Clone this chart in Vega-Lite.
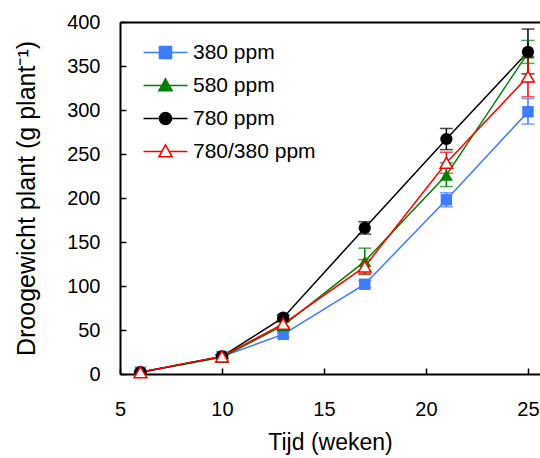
{
  "$schema": "https://vega.github.io/schema/vega-lite/v6.json",
  "width": 420,
  "height": 352,
  "autosize": {"type": "none"},
  "padding": {"left": 120, "top": 22, "right": 0, "bottom": 84},
  "config": {
    "view": {"stroke": null},
    "font": "Liberation Sans",
    "axis": {"grid": false, "labelColor": "#000", "titleColor": "#000", "titleFontWeight": "normal", "domainColor": "#000", "tickColor": "#000", "labelFont": "Liberation Sans", "titleFont": "Liberation Sans"},
    "legend": {"labelFont": "Liberation Sans"}
  },
  "data": {"values": [
    {"series": "380 ppm", "week": 6, "y": 2, "lo": 1, "hi": 3},
    {"series": "380 ppm", "week": 10, "y": 20, "lo": 18, "hi": 22},
    {"series": "380 ppm", "week": 13, "y": 45, "lo": 42, "hi": 48},
    {"series": "380 ppm", "week": 17, "y": 102, "lo": 98, "hi": 106},
    {"series": "380 ppm", "week": 21, "y": 198, "lo": 190, "hi": 206},
    {"series": "380 ppm", "week": 25, "y": 298, "lo": 284, "hi": 313},
    {"series": "580 ppm", "week": 6, "y": 2, "lo": 1, "hi": 3},
    {"series": "580 ppm", "week": 10, "y": 19, "lo": 17, "hi": 21},
    {"series": "580 ppm", "week": 13, "y": 55, "lo": 51, "hi": 59},
    {"series": "580 ppm", "week": 17, "y": 128, "lo": 113, "hi": 143},
    {"series": "580 ppm", "week": 21, "y": 226, "lo": 213, "hi": 240},
    {"series": "580 ppm", "week": 25, "y": 365, "lo": 353, "hi": 379},
    {"series": "780 ppm", "week": 6, "y": 2, "lo": 1, "hi": 3},
    {"series": "780 ppm", "week": 10, "y": 20, "lo": 18, "hi": 22},
    {"series": "780 ppm", "week": 13, "y": 64, "lo": 61, "hi": 67},
    {"series": "780 ppm", "week": 17, "y": 166, "lo": 159, "hi": 173},
    {"series": "780 ppm", "week": 21, "y": 267, "lo": 255, "hi": 279},
    {"series": "780 ppm", "week": 25, "y": 366, "lo": 341, "hi": 392},
    {"series": "780/380 ppm", "week": 6, "y": 2, "lo": 1, "hi": 3},
    {"series": "780/380 ppm", "week": 10, "y": 20, "lo": 18, "hi": 22},
    {"series": "780/380 ppm", "week": 13, "y": 57, "lo": 54, "hi": 60},
    {"series": "780/380 ppm", "week": 17, "y": 122, "lo": 114, "hi": 130},
    {"series": "780/380 ppm", "week": 21, "y": 240, "lo": 228, "hi": 252},
    {"series": "780/380 ppm", "week": 25, "y": 338, "lo": 315, "hi": 361}
  ]},
  "resolve": {"axis": {"x": "independent"}, "scale": {"shape": "independent"}, "legend": {"shape": "independent"}},
  "layer": [
    {
      "mark": {"type": "rule", "strokeWidth": 1.5},
      "encoding": {
        "x": {"field": "week", "type": "quantitative", "scale": {"domain": [5, 25.59], "nice": false, "zero": false},
          "axis": {"title": "Tijd (weken)", "values": [5, 10, 15, 20, 25], "tickSize": -6, "tickWidth": 1.5, "domainWidth": 2, "labelFontSize": 20, "titleFontSize": 23, "labelPadding": 31, "titlePadding": 12, "labelFlush": false}},
        "y": {"field": "lo", "type": "quantitative", "scale": {"domain": [0, 400], "nice": false},
          "axis": {"title": "Droogewicht plant (g plant⁻¹)", "values": [0, 50, 100, 150, 200, 250, 300, 350, 400], "tickSize": -6, "tickWidth": 1.5, "domainWidth": 2, "labelFontSize": 20, "titleFontSize": 25, "labelPadding": 26, "titlePadding": 27}},
        "y2": {"field": "hi"},
        "color": {"field": "series", "type": "nominal", "scale": {"domain": ["380 ppm", "580 ppm", "780 ppm", "780/380 ppm"], "range": ["#3d7bff", "#008000", "#000000", "#ff0000"]}, "legend": null}
      }
    },
    {
      "mark": {"type": "tick", "orient": "horizontal", "size": 13, "thickness": 1.5},
      "encoding": {
        "x": {"field": "week", "type": "quantitative", "axis": null},
        "y": {"field": "lo", "type": "quantitative"},
        "color": {"field": "series", "type": "nominal", "legend": null}
      }
    },
    {
      "mark": {"type": "tick", "orient": "horizontal", "size": 13, "thickness": 1.5},
      "encoding": {
        "x": {"field": "week", "type": "quantitative", "axis": null},
        "y": {"field": "hi", "type": "quantitative"},
        "color": {"field": "series", "type": "nominal", "legend": null}
      }
    },
    {
      "mark": {"type": "line", "strokeWidth": 1.5},
      "encoding": {
        "x": {"field": "week", "type": "quantitative", "axis": null},
        "y": {"field": "y", "type": "quantitative"},
        "color": {"field": "series", "type": "nominal", "legend": null},
        "order": {"field": "week"}
      }
    },
    {
      "transform": [{"filter": "datum.series === '380 ppm'"}],
      "mark": {"type": "point", "shape": "square", "filled": true, "size": 130, "opacity": 1},
      "encoding": {
        "x": {"field": "week", "type": "quantitative", "axis": null},
        "y": {"field": "y", "type": "quantitative"},
        "color": {"field": "series", "type": "nominal", "legend": null}
      }
    },
    {
      "transform": [{"filter": "datum.series === '580 ppm'"}],
      "mark": {"type": "point", "shape": "triangle-up", "filled": true, "size": 170, "opacity": 1},
      "encoding": {
        "x": {"field": "week", "type": "quantitative", "axis": null},
        "y": {"field": "y", "type": "quantitative"},
        "color": {"field": "series", "type": "nominal", "legend": null}
      }
    },
    {
      "transform": [{"filter": "datum.series === '780 ppm'"}],
      "mark": {"type": "point", "shape": "circle", "filled": true, "size": 150, "opacity": 1},
      "encoding": {
        "x": {"field": "week", "type": "quantitative", "axis": null},
        "y": {"field": "y", "type": "quantitative"},
        "color": {"field": "series", "type": "nominal", "legend": null}
      }
    },
    {
      "transform": [{"filter": "datum.series === '780/380 ppm'"}],
      "mark": {"type": "point", "shape": "triangle-up", "filled": true, "fill": "#ffffff", "stroke": "#ff0000", "strokeWidth": 1.5, "size": 160, "opacity": 1},
      "encoding": {
        "x": {"field": "week", "type": "quantitative", "axis": null},
        "y": {"field": "y", "type": "quantitative"}
      }
    },
    {
      "transform": [{"filter": "datum.week === 25"}],
      "mark": {"type": "point", "filled": true, "opacity": 0, "size": 1089, "strokeWidth": 1.5,
        "fill": {"expr": "datum.value === '380 ppm' ? '#3d7bff' : datum.value === '580 ppm' ? '#008000' : datum.value === '780 ppm' ? '#000000' : '#ffffff'"},
        "stroke": {"expr": "datum.value === '380 ppm' ? '#3d7bff' : datum.value === '580 ppm' ? '#008000' : datum.value === '780 ppm' ? '#000000' : '#ff0000'"}},
      "encoding": {
        "x": {"field": "week", "type": "quantitative", "axis": {"orient": "top", "labels": false, "ticks": false, "domain": true, "domainWidth": 2, "title": null}},
        "y": {"field": "y", "type": "quantitative"},
        "shape": {"field": "series", "type": "nominal", "scale": {"domain": ["380 ppm", "580 ppm", "780 ppm", "780/380 ppm"], "range": [
          "M-1.333,0H1.333M-0.364,-0.364H0.364V0.364H-0.364Z",
          "M-1.333,0H1.333M0,-0.4L0.4,0.32L-0.4,0.32Z",
          "M-1.333,0H1.333M-0.364,0A0.364,0.364,0,1,0,0.364,0A0.364,0.364,0,1,0,-0.364,0Z",
          "M-1.333,0H-0.22M0.22,0H1.333M0,-0.4L0.4,0.32L-0.4,0.32Z"
        ]},
          "legend": {"title": null, "orient": "none", "legendX": 28, "legendY": 13, "labelFontSize": 21, "labelColor": "#000", "symbolSize": 1089, "symbolStrokeWidth": 1.5, "symbolOpacity": 1, "rowPadding": 5, "labelOffset": 10}}
      }
    }
  ]
}
